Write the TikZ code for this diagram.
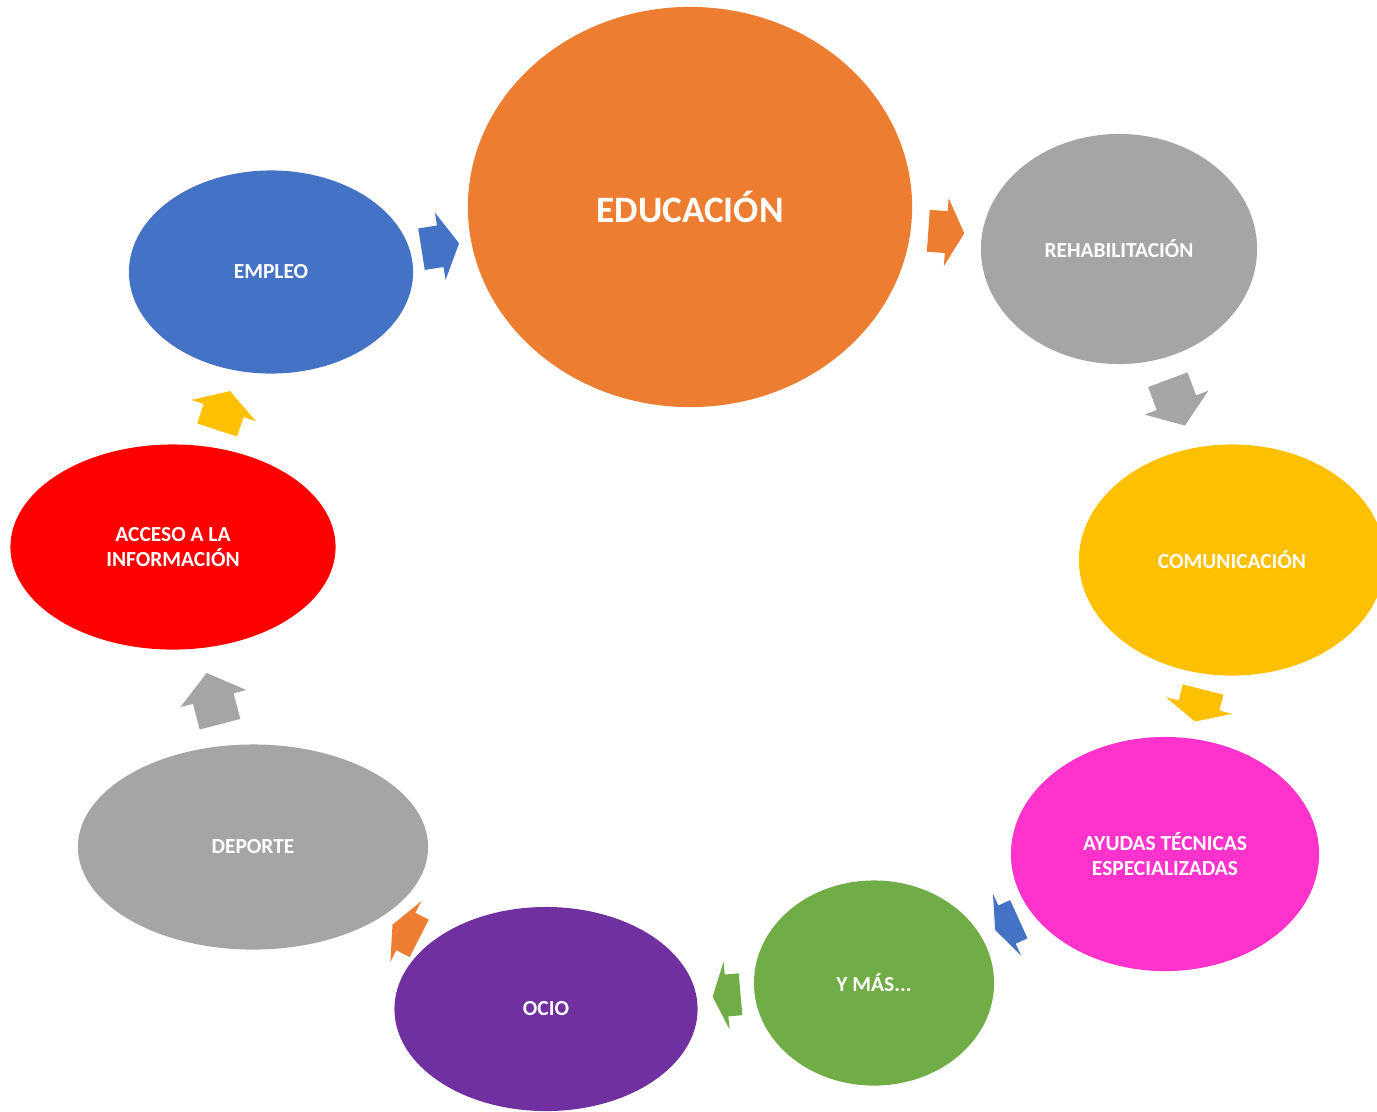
\documentclass[tikz,border=0pt]{standalone}
\usepackage{fontspec}
\setmainfont{Carlito}
\usetikzlibrary{shapes.geometric}

\definecolor{cOrange}{HTML}{ED7D31}
\definecolor{cGray}{HTML}{A5A5A5}
\definecolor{cYellow}{HTML}{FFC000}
\definecolor{cPink}{HTML}{FF33CC}
\definecolor{cGreen}{HTML}{70AD47}
\definecolor{cPurple}{HTML}{7030A0}
\definecolor{cRed}{HTML}{FF0000}
\definecolor{cBlue}{HTML}{4472C4}

\tikzset{
  bubble/.style={ellipse, inner sep=0pt, text=white, align=center,
    font=\fontsize{6.1}{6.9}\selectfont\bfseries},
}

% block arrow: colour, back x, back y, angle, length
\newcommand{\blockarrow}[5]{%
  \fill[#1, shift={(#2,#3)}, rotate=#4]
    (0,-21) -- ({#5/2},-21) -- ({#5/2},-34) -- (#5,0)
    -- ({#5/2},34) -- ({#5/2},21) -- (0,21) -- cycle;}

\begin{document}
\begin{tikzpicture}[x=0.01cm, y=-0.01cm]
  \useasboundingbox (0,0) rectangle (1377,1111);

  \node[bubble, fill=cOrange, minimum width=4.44cm, minimum height=4cm,
    font=\fontsize{10.6}{12}\selectfont\bfseries] (educ) at (690,207) {EDUCACIÓN};
  \node[bubble, fill=cGray, minimum width=2.76cm, minimum height=2.3cm] (rehab) at (1119,249) {REHABILITACIÓN};
  \node[bubble, fill=cYellow, minimum width=3.06cm, minimum height=2.31cm] (comun) at (1232,560) {COMUNICACIÓN};
  \node[bubble, fill=cPink, minimum width=3.08cm, minimum height=2.34cm] (ayudas) at (1165,854) {AYUDAS TÉCNICAS\\ESPECIALIZADAS};
  \node[bubble, fill=cGreen, minimum width=2.4cm, minimum height=2.05cm] (ymas) at (874,983) {Y MÁS...};
  \node[bubble, fill=cPurple, minimum width=3.03cm, minimum height=2.04cm] (ocio) at (546,1009) {OCIO};
  \node[bubble, fill=cGray, minimum width=3.5cm, minimum height=2.05cm] (deporte) at (253,847) {DEPORTE};
  \node[bubble, fill=cRed, minimum width=3.25cm, minimum height=2.05cm] (acceso) at (173,547) {ACCESO A LA\\INFORMACIÓN};
  \node[bubble, fill=cBlue, minimum width=2.84cm, minimum height=2.03cm] (empleo) at (271,272) {EMPLEO};

  % arrows round the cycle
  \blockarrow{cBlue}{421.5}{249.2}{9}{38}
  \blockarrow{cOrange}{928.3}{230.8}{-4}{36}
  \blockarrow{cGray}{1167.8}{379.7}{-69.5}{49}
  \blockarrow{cYellow}{1203}{689.5}{-104}{33}
  \blockarrow{cBlue}{1018.8}{919.2}{204.4}{26}
  \blockarrow{cGreen}{740.5}{994.2}{185}{28}
  \blockarrow{cOrange}{419.2}{938.3}{153}{30}
  \blockarrow{cGray}{220}{724.2}{104.6}{53}
  \blockarrow{cYellow}{217.2}{430}{71.8}{41}
\end{tikzpicture}
\end{document}
